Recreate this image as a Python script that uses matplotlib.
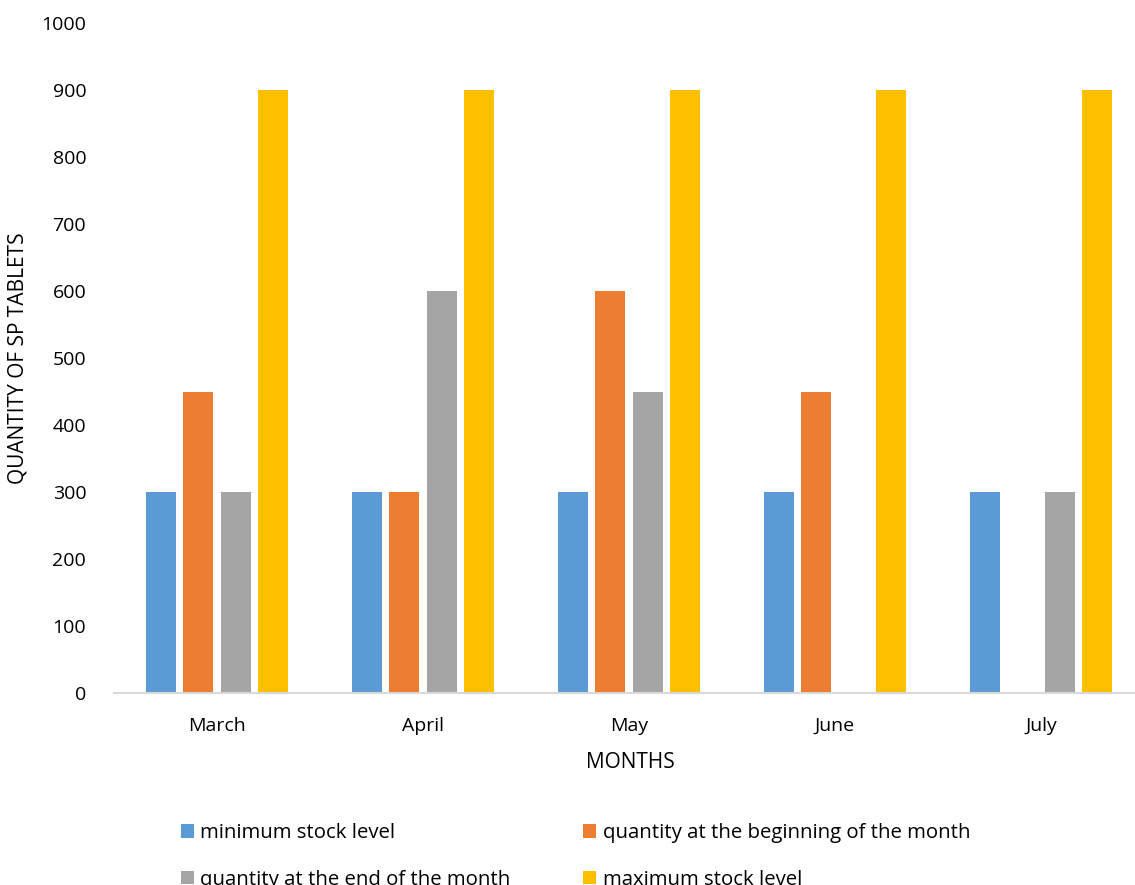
import matplotlib

matplotlib.use("Agg")
import matplotlib.pyplot as plt
import numpy as np

months = ["March", "April", "May", "June", "July"]
series_names = [
    "minimum stock level",
    "quantity at the beginning of the month",
    "quantity at the end of the month",
    "maximum stock level",
]
minimum_stock = [300, 300, 300, 300, 300]
start_quantity = [450, 300, 600, 450, 0]
end_quantity = [300, 600, 450, 0, 300]
maximum_stock = [900, 900, 900, 900, 900]
y_ticks = [0, 100, 200, 300, 400, 500, 600, 700, 800, 900, 1000]

colors = ["#5B9BD5", "#ED7D31", "#A5A5A5", "#FFC000"]

plt.rcParams["font.family"] = ["Open Sans", "DejaVu Sans"]

W, H = 1135, 885
fig = plt.figure(figsize=(W / 100, H / 100), dpi=100)
left_px, right_px, top_px, zero_px = 114, 1144, 23, 693
ax = fig.add_axes([left_px / W, 1 - zero_px / H, (right_px - left_px) / W, (zero_px - top_px) / H])

x = np.arange(len(months))
pitch = 37.5 / 206
width = 30 / 206
bars = []
for i, (values, name, color) in enumerate(
    zip([minimum_stock, start_quantity, end_quantity, maximum_stock], series_names, colors)
):
    bars.append(ax.bar(x + (i - 1.5) * pitch, values, width=width, color=color, label=name))

ax.set_xlim(-0.5, 4.5)
ax.set_ylim(0, 1000)
ax.set_xticks(x)
ax.set_xticklabels(months)
ax.set_yticks(y_ticks)
ax.tick_params(axis="both", length=0, labelsize=14, colors="#000000")
ax.tick_params(axis="y", pad=20)
ax.tick_params(axis="x", pad=17)
for side in ("top", "right", "left"):
    ax.spines[side].set_visible(False)
ax.spines["bottom"].set_color("#D9D9D9")
ax.spines["bottom"].set_linewidth(1.5)

fig.text(18 / W, 1 - 358 / H, "QUANTITY OF SP TABLETS", rotation=90, ha="center", va="center", fontsize=15)
fig.text(630 / W, 1 - 763 / H, "MONTHS", ha="center", va="center", fontsize=15)

# legend fills column-wise, so reorder to read row-wise like the original
order = [0, 2, 1, 3]
fig.legend(
    [bars[i] for i in order],
    [series_names[i] for i in order],
    loc="upper left",
    bbox_to_anchor=(181 / W, 1 - 823 / H),
    ncol=2,
    frameon=False,
    fontsize=14.7,
    handlelength=0.65,
    handleheight=0.65,
    handletextpad=0.3,
    columnspacing=3.55,
    labelspacing=1.3,
    borderpad=0,
    borderaxespad=0,
)

fig.savefig("out.png", dpi=100)
